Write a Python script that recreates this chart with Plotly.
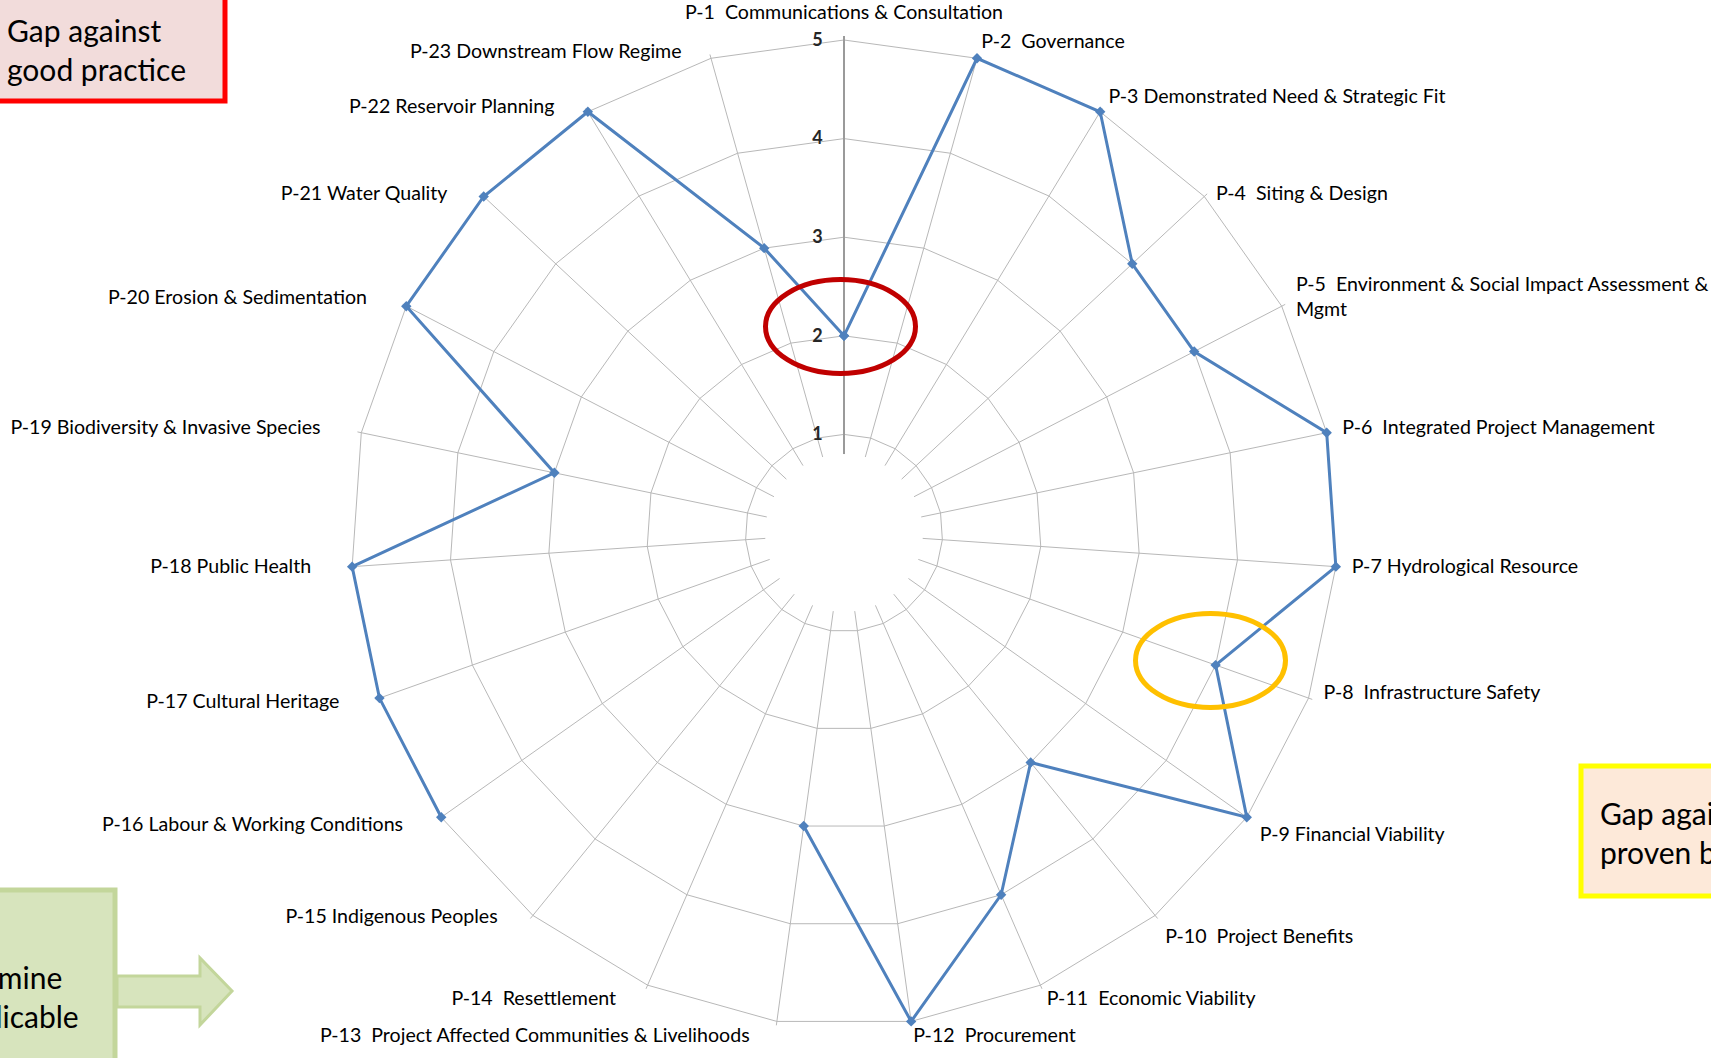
import plotly.graph_objects as go

W, H = 1711, 1058

categories = [
    "P-1\u00a0 Communications & Consultation",
    "P-2\u00a0 Governance",
    "P-3 Demonstrated Need & Strategic Fit",
    "P-4\u00a0 Siting & Design",
    "P-5\u00a0 Environment & Social Impact Assessment &<br>Mgmt",
    "P-6\u00a0 Integrated Project Management",
    "P-7 Hydrological Resource",
    "P-8\u00a0 Infrastructure Safety",
    "P-9 Financial Viability",
    "P-10\u00a0 Project Benefits",
    "P-11\u00a0 Economic Viability",
    "P-12\u00a0 Procurement",
    "P-13\u00a0 Project Affected Communities & Livelihoods",
    "P-14\u00a0 Resettlement",
    "P-15 Indigenous Peoples",
    "P-16 Labour & Working Conditions",
    "P-17 Cultural Heritage",
    "P-18 Public Health",
    "P-19 Biodiversity & Invasive Species",
    "P-20 Erosion & Sedimentation",
    "P-21 Water Quality",
    "P-22 Reservoir Planning",
    "P-23 Downstream Flow Regime",
]
scores = [2, 5, 5, 4, 4, 5, 5, 4, 5, 3, 4, 5, 3, None, None, 5, 5, 5, 3, 5, 5, 5, 3]
radial_ticks = [1, 2, 3, 4, 5]
score_max = 5

label_positions = [
    "top center", "middle right", "middle right", "bottom right", "middle right",
    "middle right", "middle right", "top right", "bottom right", "bottom right",
    "middle right", "middle right", "middle left", "middle left", "top left",
    "middle left", "middle left", "middle left", "middle left", "middle left",
    "bottom left", "bottom left", "bottom left",
]

FONT = "Lato"
GRID = "#b8b8b8"
LEFT_PAD = "\u00a0" * 5

label_text = [
    c + LEFT_PAD if pos.endswith("left") else c
    for c, pos in zip(categories, label_positions)
]


def px(x):
    return x / W


def py(y):
    return 1 - y / H


fig = go.Figure()

fig.add_trace(go.Scatterpolar(
    r=scores + [scores[0]],
    theta=categories + [categories[0]],
    mode="lines+markers",
    line=dict(color="#4f81bd", width=3),
    marker=dict(symbol="diamond", size=8, color="#4f81bd"),
    connectgaps=False,
    cliponaxis=False,
    showlegend=False,
    hoverinfo="skip",
    subplot="polar",
))

# category labels, drawn on a slightly larger, invisible polar frame
fig.add_trace(go.Scatterpolar(
    r=[score_max] * len(categories),
    theta=categories,
    mode="text",
    text=label_text,
    textposition=label_positions,
    textfont=dict(family=FONT, size=19.6, color="#000000"),
    cliponaxis=False,
    showlegend=False,
    hoverinfo="skip",
    subplot="polar2",
))

# small headroom above the top ring so lines lying on it are not clipped
r_lo, r_hi = 0.8, score_max * 1.008
cx, cy, R5 = 844, 533, 493
R = R5 * r_hi / score_max
R2 = R5 + 16
fig.update_layout(
    width=W, height=H,
    margin=dict(l=0, r=0, t=0, b=0),
    paper_bgcolor="white",
    plot_bgcolor="white",
    font=dict(family=FONT, color="#000000"),
    polar=dict(
        domain=dict(x=[px(cx - R), px(cx + R)], y=[py(cy + R), py(cy - R)]),
        bgcolor="white",
        hole=r_lo / r_hi,
        gridshape="linear",
        radialaxis=dict(
            range=[r_lo, r_hi],
            tickvals=radial_ticks,
            ticktext=[str(v) for v in radial_ticks],
            angle=90,
            side="counterclockwise",
            tickangle=90,
            showline=True,
            linecolor="#9a9a9a",
            linewidth=2,
            gridcolor=GRID,
            gridwidth=1.2,
            ticks="outside",
            ticklen=14,
            tickcolor="rgba(0,0,0,0)",
            layer="below traces",
            tickfont=dict(family=FONT, size=18, color="#262626", weight="bold"),
        ),
        angularaxis=dict(
            direction="clockwise",
            rotation=90,
            showticklabels=False,
            ticks="",
            showline=False,
            gridcolor=GRID,
            gridwidth=1.2,
            layer="below traces",
        ),
    ),
    polar2=dict(
        domain=dict(x=[px(cx - R2), px(cx + R2)], y=[py(cy + R2), py(cy - R2)]),
        bgcolor="rgba(0,0,0,0)",
        radialaxis=dict(range=[0, score_max], visible=False),
        angularaxis=dict(
            direction="clockwise",
            rotation=90,
            showticklabels=False,
            ticks="",
            showline=False,
            showgrid=False,
        ),
    ),
)

shapes = []
# red box top-left
shapes.append(dict(type="rect", xref="paper", yref="paper",
                   x0=px(-10), x1=px(225), y0=py(101), y1=py(-10),
                   fillcolor="#f2dcdb", line=dict(color="#ff0000", width=5), layer="above"))
# yellow box right
shapes.append(dict(type="rect", xref="paper", yref="paper",
                   x0=px(1581), x1=px(1740), y0=py(896), y1=py(766),
                   fillcolor="#fde9d9", line=dict(color="#ffff00", width=5), layer="above"))
# green box bottom-left
shapes.append(dict(type="rect", xref="paper", yref="paper",
                   x0=px(-200), x1=px(115), y0=py(1100), y1=py(890),
                   fillcolor="#d7e4bd", line=dict(color="#c3d69b", width=5), layer="above"))
# arrow
arrow_pts = [(117, 976), (200, 976), (200, 958), (232, 991), (200, 1025), (200, 1007), (117, 1007)]
path = "M " + " L ".join(f"{px(x)},{py(y)}" for x, y in arrow_pts) + " Z"
shapes.append(dict(type="path", xref="paper", yref="paper", path=path,
                   fillcolor="#d7e4bd", line=dict(color="#c3d69b", width=3), layer="above"))
# ellipses
shapes.append(dict(type="circle", xref="paper", yref="paper",
                   x0=px(840.5 - 75), x1=px(840.5 + 75), y0=py(326.5 + 47), y1=py(326.5 - 47),
                   line=dict(color="#c00000", width=5), layer="above"))
shapes.append(dict(type="circle", xref="paper", yref="paper",
                   x0=px(1210.5 - 75), x1=px(1210.5 + 75), y0=py(660.5 + 47), y1=py(660.5 - 47),
                   line=dict(color="#ffc000", width=5), layer="above"))
fig.update_layout(shapes=shapes)

ann_font = dict(family=FONT, size=30, color="#000000")
fig.add_annotation(xref="paper", yref="paper", x=px(5), y=py(49), xanchor="left", yanchor="middle",
                   align="left", showarrow=False, text="Gap against<br>good practice", font=ann_font)
fig.add_annotation(xref="paper", yref="paper", x=px(1598), y=py(832), xanchor="left", yanchor="middle",
                   align="left", showarrow=False, text="Gap against<br>proven best practice", font=ann_font)
fig.add_annotation(xref="paper", yref="paper", x=px(-80), y=py(996), xanchor="left", yanchor="middle",
                   align="left", showarrow=False, text="Determine<br>if applicable", font=ann_font)

fig.write_html("out.html")
